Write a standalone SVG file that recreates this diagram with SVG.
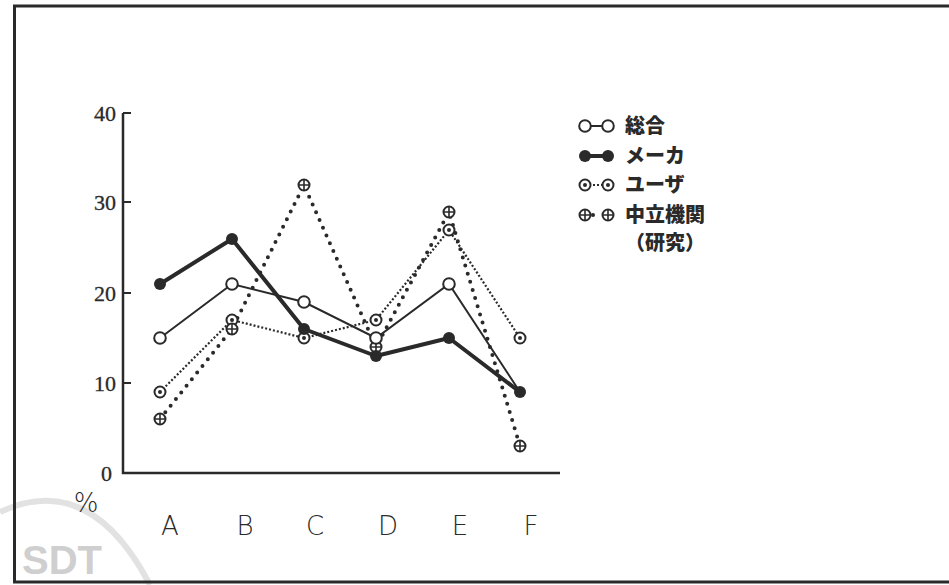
<svg xmlns="http://www.w3.org/2000/svg" xmlns:xlink="http://www.w3.org/1999/xlink" width="949" height="585" viewBox="0 0 949 585">
  <style>
    .ink{stroke:#2a2a2a;fill:none}
    .ylab{font-family:"Liberation Serif","DejaVu Serif",serif;font-size:22px;fill:#2a2a2a;stroke:#2a2a2a;stroke-width:0.3;text-anchor:end}
    .xlab{font-family:"DejaVu Sans","Liberation Sans",sans-serif;font-weight:200;font-size:26px;fill:#2a2a2a;text-anchor:middle}
    .leg{font-family:"Noto Sans CJK JP","Noto Sans CJK SC",sans-serif;font-weight:900;font-size:20px;fill:#2a2a2a}
    .sogo{stroke:#2a2a2a;stroke-width:2;fill:none}
    .maker{stroke:#2a2a2a;stroke-width:4;fill:none;stroke-linejoin:round}
    .user{stroke:#2a2a2a;stroke-width:2.2;fill:none;stroke-dasharray:2 2}
    .neutral{stroke:#2a2a2a;stroke-width:4;fill:none;stroke-dasharray:0 8.5;stroke-linecap:round}
  </style>
  <defs>
    <g id="mOpen"><circle r="5.8" fill="#fff" stroke="#2a2a2a" stroke-width="2"/></g>
    <g id="mFill"><circle r="6" fill="#2a2a2a"/></g>
    <g id="mUser"><circle r="5.5" fill="#fff" stroke="#2a2a2a" stroke-width="2"/><circle r="2" fill="#2a2a2a"/></g>
    <g id="mNeut"><circle r="5.5" fill="#fff" stroke="#2a2a2a" stroke-width="2"/><path d="M-5.5 0H5.5M0 -5.5V5.5" stroke="#2a2a2a" stroke-width="1.6"/></g>
  </defs>

  <rect width="949" height="585" fill="#fff"/>

  <g id="watermark">
    <path d="M0 512 Q90 470 150 585" fill="none" stroke="#e2e2e2" stroke-width="6"/>
    <text x="22" y="574" font-family="Liberation Sans,sans-serif" font-weight="700" font-size="40" fill="#cfcfcf">SDT</text>
  </g>

  <g id="frame">
    <path d="M955 6 H14.5 V582 H955" class="ink" stroke-width="3"/>
  </g>

  <g id="axes">
    <path d="M123 113 V473 H560" class="ink" stroke-width="2.5"/>
    <path d="M123 113 H131 M123 202 H131 M123 293 H131 M123 383 H131" class="ink" stroke-width="2"/>
    <text class="ylab" x="116" y="121">40</text>
    <text class="ylab" x="116" y="210">30</text>
    <text class="ylab" x="116" y="301">20</text>
    <text class="ylab" x="116" y="391">10</text>
    <text class="ylab" x="112" y="481">0</text>
    <text class="xlab" x="86" y="512" font-size="22" font-weight="400">%</text>
    <text class="xlab" x="170" y="535">A</text>
    <text class="xlab" x="245" y="535">B</text>
    <text class="xlab" x="315" y="535">C</text>
    <text class="xlab" x="388" y="535">D</text>
    <text class="xlab" x="460" y="535">E</text>
    <text class="xlab" x="531" y="535">F</text>
  </g>

  <g id="connectors">
    <polyline class="user" points="160,392 232,320 304,338 376,320 449,230 520,338"/>
    <polyline class="neutral" points="160,419 232,329 304,185 376,347 449,212 520,446"/>
    <polyline class="sogo" points="160,338 232,284 304,302 376,338 449,284 520,392"/>
    <polyline class="maker" points="160,284 232,239 304,329 376,356 449,338 520,392"/>
  </g>

  <g id="series-user">
    <use xlink:href="#mUser" x="160" y="392"/><use xlink:href="#mUser" x="232" y="320"/><use xlink:href="#mUser" x="304" y="338"/>
    <use xlink:href="#mUser" x="376" y="320"/><use xlink:href="#mUser" x="449" y="230"/><use xlink:href="#mUser" x="520" y="338"/>
  </g>
  <g id="series-neutral">
    <use xlink:href="#mNeut" x="160" y="419"/><use xlink:href="#mNeut" x="232" y="329"/><use xlink:href="#mNeut" x="304" y="185"/>
    <use xlink:href="#mNeut" x="376" y="347"/><use xlink:href="#mNeut" x="449" y="212"/><use xlink:href="#mNeut" x="520" y="446"/>
  </g>
  <g id="series-sogo">
    <use xlink:href="#mOpen" x="160" y="338"/><use xlink:href="#mOpen" x="232" y="284"/><use xlink:href="#mOpen" x="304" y="302"/>
    <use xlink:href="#mOpen" x="376" y="338"/><use xlink:href="#mOpen" x="449" y="284"/>
  </g>
  <g id="series-maker">
    <use xlink:href="#mFill" x="160" y="284"/><use xlink:href="#mFill" x="232" y="239"/><use xlink:href="#mFill" x="304" y="329"/>
    <use xlink:href="#mFill" x="376" y="356"/><use xlink:href="#mFill" x="449" y="338"/><use xlink:href="#mFill" x="520" y="392"/>
  </g>

  <g id="legend">
    <g id="legend-sogo">
      <path d="M585 126 H608" class="sogo"/>
      <use xlink:href="#mOpen" x="585" y="126"/><use xlink:href="#mOpen" x="608" y="126"/>
      <text class="leg" x="625" y="133">総合</text>
    </g>
    <g id="legend-maker">
      <path d="M585 156 H608" class="maker"/>
      <use xlink:href="#mFill" x="585" y="156"/><use xlink:href="#mFill" x="608" y="156"/>
      <text class="leg" x="625" y="163">メーカ</text>
    </g>
    <g id="legend-user">
      <path d="M585 185 H608" class="user"/>
      <use xlink:href="#mUser" x="585" y="185"/><use xlink:href="#mUser" x="608" y="185"/>
      <text class="leg" x="625" y="192">ユーザ</text>
    </g>
    <g id="legend-neutral">
      <path d="M593 215 H601" class="neutral" stroke-dasharray="0 4.5"/>
      <use xlink:href="#mNeut" x="585" y="215"/><use xlink:href="#mNeut" x="608" y="215"/>
      <text class="leg" x="625" y="222">中立機関</text>
      <text class="leg" x="625" y="250">（研究）</text>
    </g>
  </g>
</svg>
